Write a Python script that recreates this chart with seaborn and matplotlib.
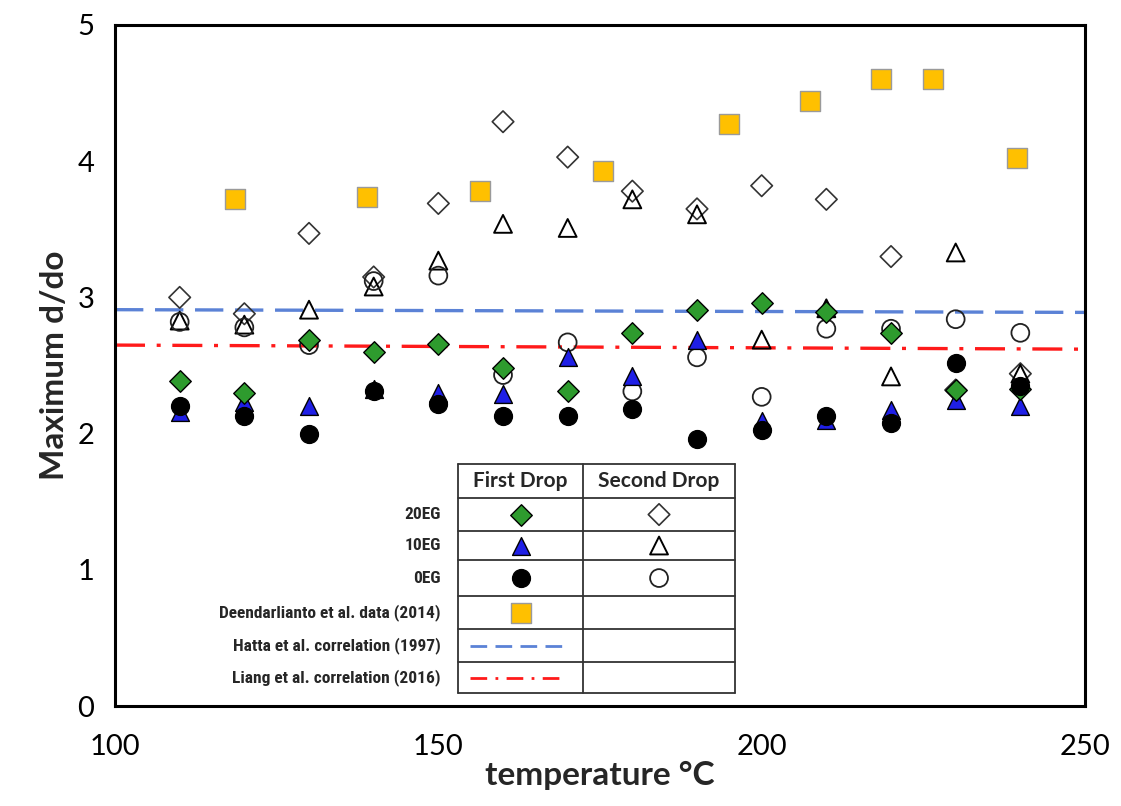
import matplotlib
matplotlib.use("Agg")
import matplotlib.pyplot as plt
from matplotlib import font_manager
import seaborn as sns

# temperatures of the EG runs
temps = [110, 120, 130, 140, 150, 160, 170, 180, 190, 200, 210, 220, 230, 240]

eg20_first = [2.39, 2.30, 2.69, 2.60, 2.66, 2.48, 2.31, 2.74, 2.91, 2.96, 2.89, 2.74, 2.32, 2.33]
eg20_second = [3.00, 2.88, 3.47, 3.15, 3.69, 4.29, 4.03, 3.78, 3.65, 3.82, 3.72, 3.30, 2.32, 2.44]
eg10_first = [2.16, 2.23, 2.20, 2.33, 2.30, 2.29, 2.56, 2.42, 2.69, 2.09, 2.10, 2.17, 2.25, 2.20]
eg10_second = [2.83, 2.80, 2.91, 3.08, 3.27, 3.54, 3.51, 3.72, 3.61, 2.69, 2.92, 2.42, 3.33, 2.44]
eg0_first = [2.20, 2.13, 2.00, 2.31, 2.22, 2.13, 2.13, 2.18, 1.96, 2.03, 2.13, 2.08, 2.52, 2.35]
eg0_second = [2.82, 2.78, 2.65, 3.12, 3.16, 2.43, 2.67, 2.31, 2.56, 2.27, 2.77, 2.77, 2.84, 2.74]

# Deendarlianto et al. (2014)
deen_t = [118.5, 139, 156.5, 175.5, 195, 207.5, 218.5, 226.5, 239.5]
deen_d = [3.72, 3.74, 3.78, 3.93, 4.27, 4.44, 4.60, 4.60, 4.02]

# correlations
hatta_t = [100, 250]
hatta_d = [2.91, 2.89]
liang_t = [100, 250]
liang_d = [2.65, 2.62]

row_labels = ["20EG", "10EG", "0EG", "Deendarlianto et al. data (2014)",
              "Hatta et al. correlation (1997)", "Liang et al. correlation (2016)"]

sns.set_style("white")
plt.rcParams['font.family'] = ['Lato', 'DejaVu Sans']

# narrow font for the row labels, if one is around
have = {f.name for f in font_manager.fontManager.ttflist}
narrow = "Roboto"
for cand in ["Liberation Sans Narrow", "Roboto Condensed", "Open Sans Condensed",
             "DejaVu Sans Condensed", "Arial Narrow"]:
    if cand in have:
        narrow = cand
        break

GREEN = "#2e9b2e"
BLUE = "#1f1fe6"
GOLD = "#ffc000"
LBLUE = "#5b82d6"
RED = "#ff1a1a"

fig = plt.figure(figsize=(11.21, 8.06), dpi=100)
ax = fig.add_axes([0.1026, 0.124, 0.8653, 0.845])

sns.lineplot(x=hatta_t, y=hatta_d, ax=ax, color=LBLUE, lw=2.4, zorder=1)
ax.lines[-1].set_dashes((8.5, 3.5))
sns.lineplot(x=liang_t, y=liang_d, ax=ax, color=RED, lw=2.4, zorder=1)
ax.lines[-1].set_dashes((9, 3.5, 1.2, 3.5))

ms = 165
sns.scatterplot(x=temps, y=eg20_second, ax=ax, marker="D", s=120, facecolor="none",
                edgecolor="#333333", linewidth=1.2, zorder=3)
sns.scatterplot(x=temps, y=eg10_second, ax=ax, marker="^", s=ms, facecolor="none",
                edgecolor="black", linewidth=1.4, zorder=3)
sns.scatterplot(x=temps, y=eg0_second, ax=ax, marker="o", s=ms, facecolor="none",
                edgecolor="#222222", linewidth=1.3, zorder=3)
sns.scatterplot(x=temps, y=eg10_first, ax=ax, marker="^", s=ms, color=BLUE,
                edgecolor="black", linewidth=1, zorder=4)
sns.scatterplot(x=temps, y=eg20_first, ax=ax, marker="D", s=120, color=GREEN,
                edgecolor="black", linewidth=1, zorder=5)
sns.scatterplot(x=temps, y=eg0_first, ax=ax, marker="o", s=ms, color="black",
                edgecolor="black", linewidth=1, zorder=6)
sns.scatterplot(x=deen_t, y=deen_d, ax=ax, marker="s", s=205, color=GOLD,
                edgecolor="#9a9a9a", linewidth=1, zorder=7)

ax.set_xlim(100, 250)
ax.set_ylim(0, 5)
ax.set_xticks([100, 150, 200, 250])
ax.set_yticks([0, 1, 2, 3, 4, 5])
ax.tick_params(axis="both", direction="out", length=9, width=1.5, labelsize=21,
               colors="black")
ax.tick_params(axis="x", pad=11)
ax.tick_params(axis="y", pad=6)
for s in ax.spines.values():
    s.set_color("black")
    s.set_linewidth(2.2)

ax.set_xlabel("temperature °C", fontsize=24, fontweight="bold", labelpad=1)
ax.set_ylabel("Maximum d/do", fontsize=24, fontweight="bold", labelpad=6)

# legend table
xl, xm, xr = 0.3536, 0.4825, 0.6392
ys = [0.3554, 0.3054, 0.257, 0.2144, 0.1615, 0.113, 0.0646, 0.0191]
tr = ax.transAxes
for y in ys:
    ax.plot([xl, xr], [y, y], color="#333333", lw=1.3, transform=tr, zorder=8)
for x in (xl, xm, xr):
    ax.plot([x, x], [ys[0], ys[-1]], color="#333333", lw=1.3, transform=tr, zorder=8)

c1 = (xl + xm) / 2
c2 = (xm + xr) / 2
hy = (ys[0] + ys[1]) / 2
ax.text(c1, hy, "First Drop", transform=tr, ha="center", va="center",
        fontsize=15, fontweight="bold")
ax.text(c2, hy, "Second Drop", transform=tr, ha="center", va="center",
        fontsize=15, fontweight="bold")

rc = [(ys[i + 1] + ys[i + 2]) / 2 for i in range(6)]
for lab, y in zip(row_labels, rc):
    ax.text(0.336, y, lab, transform=tr, ha="right", va="center", fontsize=12.5,
            fontweight="bold", fontstretch="condensed", family=[narrow, "DejaVu Sans"])

kw = dict(transform=tr, clip_on=False, zorder=9)
ax.scatter([c1], [rc[0]], marker="D", s=120, color=GREEN, edgecolor="black", lw=1, **kw)
ax.scatter([c2], [rc[0]], marker="D", s=120, facecolor="none", edgecolor="#333333", lw=1.2, **kw)
ax.scatter([c1], [rc[1]], marker="^", s=ms, color=BLUE, edgecolor="black", lw=1, **kw)
ax.scatter([c2], [rc[1]], marker="^", s=ms, facecolor="none", edgecolor="black", lw=1.4, **kw)
ax.scatter([c1], [rc[2]], marker="o", s=ms, color="black", edgecolor="black", lw=1, **kw)
ax.scatter([c2], [rc[2]], marker="o", s=ms, facecolor="none", edgecolor="#222222", lw=1.3, **kw)
ax.scatter([c1], [rc[3]], marker="s", s=205, color=GOLD, edgecolor="#9a9a9a", lw=1, **kw)
ax.plot([xl + 0.012, xm - 0.02], [rc[4], rc[4]], color=LBLUE, lw=2, dashes=(6, 3),
        transform=tr, zorder=9)
ax.plot([xl + 0.012, xm - 0.02], [rc[5], rc[5]], color=RED, lw=2, dashes=(6, 3, 1, 3),
        transform=tr, zorder=9)

fig.savefig("out.png", dpi=100)
